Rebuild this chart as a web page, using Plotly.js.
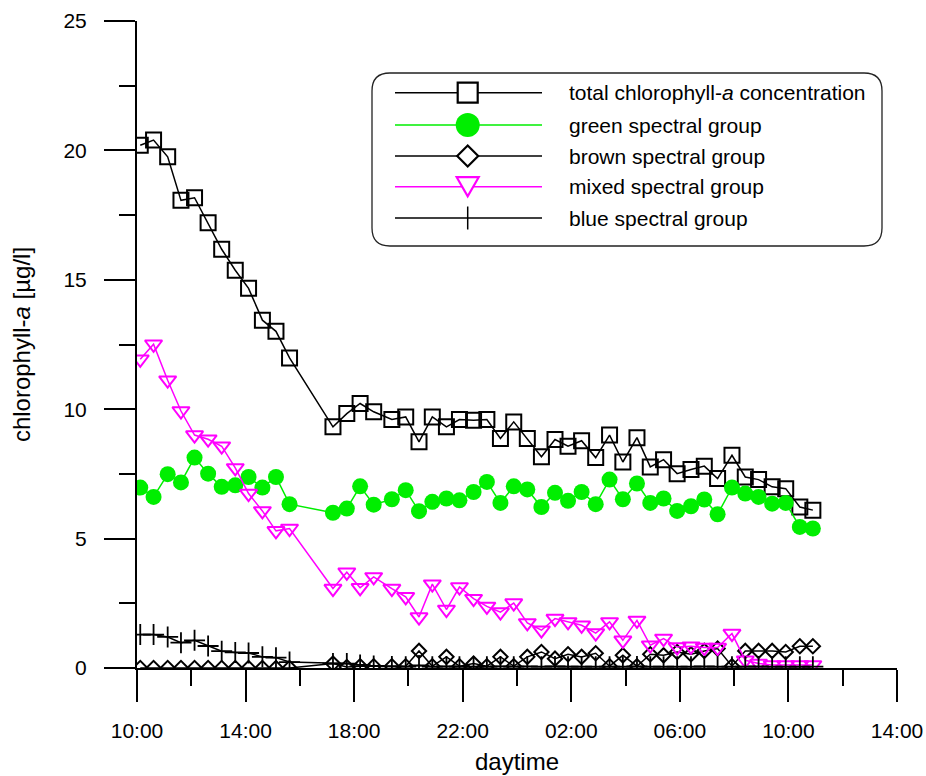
<!DOCTYPE html>
<html><head><meta charset="utf-8">
<script src="https://cdn.plot.ly/plotly-3.0.1.min.js"></script>
<style>html,body{margin:0;padding:0;background:#fff}#chart{width:926px;height:776px}</style>
</head><body><div id="chart"></div>
<script>
// Sampling times, hours since 00:00 of day 1 (values > 24 are the next day)
const timeHours = [10.12, 10.61, 11.13, 11.62, 12.12, 12.62, 13.12, 13.62, 14.11, 14.62, 15.12, 15.62,
  17.22, 17.73, 18.22, 18.72, 19.39, 19.9, 20.39, 20.88, 21.4, 21.88,
  22.4, 22.89, 23.39, 23.88, 24.38, 24.9, 25.4, 25.88, 26.38, 26.9,
  27.41, 27.9, 28.42, 28.91, 29.4, 29.9, 30.41, 30.9, 31.39, 31.92,
  32.41, 32.9, 33.4, 33.9, 34.42, 34.9];

const totalChl = [20.2, 20.4, 19.75, 18.07, 18.17, 17.2, 16.18, 15.37, 14.67, 13.44, 13.01, 11.98,
  9.32, 9.83, 10.22, 9.9, 9.6, 9.7, 8.74, 9.7, 9.32, 9.6,
  9.57, 9.6, 8.87, 9.51, 8.87, 8.16, 8.83, 8.57, 8.78, 8.13,
  9.0, 7.96, 8.9, 7.77, 8.05, 7.51, 7.67, 7.8, 7.32, 8.22,
  7.38, 7.28, 7.0, 6.93, 6.22, 6.1];

const greenGroup = [6.97, 6.61, 7.49, 7.17, 8.13, 7.51, 7.0, 7.06, 7.38, 6.97, 7.38, 6.33,
  6.0, 6.16, 7.02, 6.31, 6.52, 6.87, 6.06, 6.42, 6.55, 6.48,
  6.8, 7.19, 6.38, 7.02, 6.9, 6.22, 6.77, 6.46, 6.8, 6.33,
  7.28, 6.52, 7.13, 6.38, 6.55, 6.07, 6.25, 6.51, 5.94, 6.97,
  6.74, 6.61, 6.35, 6.38, 5.45, 5.39];

const brownGroup = [0, 0, 0, 0, 0, 0, 0, 0, 0, 0, 0, 0,
  0.17, 0.04, 0.07, 0.07, 0.07, 0.07, 0.66, 0.07, 0.43, 0.07,
  0.17, 0.07, 0.43, 0.07, 0.43, 0.62, 0.36, 0.53, 0.43, 0.57,
  0.07, 0.49, 0.07, 0.53, 0.49, 0.62, 0.53, 0.66, 0.75, 0.07,
  0.66, 0.66, 0.66, 0.62, 0.84, 0.84];

const mixedGroup = [11.93, 12.51, 11.12, 9.93, 9.0, 8.84, 8.57, 7.73, 6.74, 6.07, 5.3, 5.39,
  3.07, 3.7, 3.1, 3.52, 3.07, 2.75, 1.97, 3.24, 2.26, 3.13,
  2.68, 2.38, 2.16, 2.51, 1.74, 1.46, 1.91, 1.78, 1.65, 1.35,
  1.78, 1.07, 1.84, 0.88, 1.14, 0.81, 0.84, 0.79, 0.79, 1.33,
  0.3, 0.17, 0.12, 0.12, 0.12, 0.12];

const blueGroup = [1.29, 1.29, 1.2, 0.98, 1.07, 0.85, 0.65, 0.6, 0.58, 0.43, 0.4, 0.23,
  0.17, 0.17, 0.12, 0.08, 0.06, 0.05, 0.1, 0.05, 0.06, 0.05,
  0.05, 0.05, 0.06, 0.05, 0.06, 0.05, 0.06, 0.05, 0.05, 0.05,
  0.05, 0.05, 0.06, 0.05, 0.05, 0.05, 0.05, 0.06, 0.05, 0.05,
  0.05, 0.06, 0.05, 0.05, 0.05, 0.05];

const seriesNames = ['total chlorophyll-<i>a</i> concentration', 'green spectral group',
  'brown spectral group', 'mixed spectral group', 'blue spectral group'];

const tickHours = [10, 14, 18, 22, 26, 30, 34, 38];
const tickLabels = ['10:00', '14:00', '18:00', '22:00', '02:00', '06:00', '10:00', '14:00'];

const GREEN = '#00ee00', MAGENTA = '#ff00ff', BLACK = '#000000';
const FONT = 'Liberation Sans, Arial, sans-serif';

const traces = [
  {x: timeHours, y: totalChl, name: seriesNames[0], mode: 'lines+markers',
   line: {color: BLACK, width: 1.5},
   marker: {symbol: 'square-open', size: 15, color: BLACK, line: {width: 2, color: BLACK}}},
  {x: timeHours, y: greenGroup, name: seriesNames[1], mode: 'lines+markers',
   line: {color: GREEN, width: 1.5},
   marker: {symbol: 'circle', size: 16, color: GREEN, line: {width: 0}}},
  {x: timeHours, y: brownGroup, name: seriesNames[2], mode: 'lines+markers',
   line: {color: BLACK, width: 1.5},
   marker: {symbol: 'diamond-open', size: 11, color: BLACK, line: {width: 2, color: BLACK}}},
  {x: timeHours, y: mixedGroup, name: seriesNames[3], mode: 'lines+markers',
   line: {color: MAGENTA, width: 1.5},
   marker: {symbol: 'triangle-down-open', size: 15, color: MAGENTA, line: {width: 2, color: MAGENTA}}},
  {x: timeHours, y: blueGroup, name: seriesNames[4], mode: 'lines+markers',
   line: {color: BLACK, width: 1.5},
   marker: {symbol: 'cross-thin-open', size: 15, color: BLACK, line: {width: 1.8, color: BLACK}}}
];

// plot-area geometry (px) for the custom legend
const PL = 137, PT = 21, PW = 760, PH = 647;
const fx = p => (p - PL) / PW;
const fy = p => (PT + PH - p) / PH;

const legendRows = [92.7, 125, 156, 186.7, 218];
const legendColors = [BLACK, GREEN, BLACK, MAGENTA, BLACK];
const mx = 467.7;

const shapes = [];
// rounded legend frame
(function () {
  const x0 = 372, x1 = 882, y0 = 73, y1 = 246, r = 18;
  const p = (x, y) => fx(x).toFixed(5) + ',' + fy(y).toFixed(5);
  const d = 'M' + p(x0 + r, y0) + ' L' + p(x1 - r, y0) + ' Q' + p(x1, y0) + ' ' + p(x1, y0 + r) +
    ' L' + p(x1, y1 - r) + ' Q' + p(x1, y1) + ' ' + p(x1 - r, y1) +
    ' L' + p(x0 + r, y1) + ' Q' + p(x0, y1) + ' ' + p(x0, y1 - r) +
    ' L' + p(x0, y0 + r) + ' Q' + p(x0, y0) + ' ' + p(x0 + r, y0) + ' Z';
  shapes.push({type: 'path', xref: 'paper', yref: 'paper', path: d,
    line: {color: '#222', width: 1.3}, fillcolor: 'rgba(255,255,255,1)', layer: 'above'});
})();
legendRows.forEach((ry, i) => {
  shapes.push({type: 'line', xref: 'paper', yref: 'paper', x0: fx(395), x1: fx(542), y0: fy(ry), y1: fy(ry),
    line: {color: legendColors[i], width: 1.5}, layer: 'above'});
});
const P = (x, y) => fx(x).toFixed(5) + ',' + fy(y).toFixed(5);
// square
shapes.push({type: 'rect', xref: 'paper', yref: 'paper', x0: fx(mx - 10), x1: fx(mx + 10),
  y0: fy(legendRows[0] - 10), y1: fy(legendRows[0] + 10), line: {color: BLACK, width: 2.2}, fillcolor: 'white', layer: 'above'});
// circle
shapes.push({type: 'circle', xref: 'paper', yref: 'paper', x0: fx(mx - 12), x1: fx(mx + 12),
  y0: fy(legendRows[1] - 12), y1: fy(legendRows[1] + 12), line: {color: GREEN, width: 0}, fillcolor: GREEN, layer: 'above'});
// diamond
(function () {
  const r = legendRows[2];
  shapes.push({type: 'path', xref: 'paper', yref: 'paper',
    path: 'M' + P(mx - 10.5, r) + ' L' + P(mx, r - 10.5) + ' L' + P(mx + 10.5, r) + ' L' + P(mx, r + 10.5) + ' Z',
    line: {color: BLACK, width: 2.2}, fillcolor: 'white', layer: 'above'});
})();
// triangle down
(function () {
  const r = legendRows[3];
  shapes.push({type: 'path', xref: 'paper', yref: 'paper',
    path: 'M' + P(mx - 11, r - 9.5) + ' L' + P(mx + 11, r - 9.5) + ' L' + P(mx, r + 9.5) + ' Z',
    line: {color: MAGENTA, width: 2.2}, fillcolor: 'white', layer: 'above'});
})();
// cross
shapes.push({type: 'line', xref: 'paper', yref: 'paper', x0: fx(mx), x1: fx(mx),
  y0: fy(legendRows[4] - 11.5), y1: fy(legendRows[4] + 11.5), line: {color: BLACK, width: 1.5}, layer: 'above'});

const annotations = legendRows.map((ry, i) => ({
  xref: 'paper', yref: 'paper', x: fx(567), y: fy(ry), xanchor: 'left', yanchor: 'middle',
  text: seriesNames[i], showarrow: false, font: {family: FONT, size: 21, color: BLACK}
}));

const layout = {
  width: 926, height: 776,
  margin: {l: PL, r: 926 - PL - PW, t: PT, b: 776 - PT - PH},
  paper_bgcolor: 'white', plot_bgcolor: 'white',
  showlegend: false,
  font: {family: FONT, size: 21, color: BLACK},
  xaxis: {
    range: [10, 38], showgrid: false, zeroline: false,
    showline: true, linecolor: BLACK, linewidth: 2,
    tickmode: 'array', tickvals: tickHours, ticktext: tickLabels,
    ticks: 'outside', ticklen: 32, tickwidth: 2, tickcolor: BLACK,
    ticklabelstandoff: 11,
    minor: {tick0: 10, dtick: 2, ticks: 'outside', ticklen: 16, tickwidth: 2, tickcolor: BLACK, showgrid: false},
    tickfont: {family: FONT, size: 21, color: BLACK},
    title: {text: 'daytime', font: {family: FONT, size: 24, color: BLACK}, standoff: 12}
  },
  yaxis: {
    range: [0, 25], showgrid: false, zeroline: false,
    showline: true, linecolor: BLACK, linewidth: 2,
    tick0: 0, dtick: 5,
    ticks: 'outside', ticklen: 31, tickwidth: 2, tickcolor: BLACK,
    ticklabelstandoff: 13,
    minor: {tick0: 0, dtick: 2.5, ticks: 'outside', ticklen: 16, tickwidth: 2, tickcolor: BLACK, showgrid: false},
    tickfont: {family: FONT, size: 21, color: BLACK},
    title: {text: 'chlorophyll-<i>a</i> [µg/l]', font: {family: FONT, size: 24, color: BLACK}, standoff: 26}
  },
  shapes: shapes,
  annotations: annotations
};

Plotly.newPlot('chart', traces, layout, {displayModeBar: false, staticPlot: true});
</script>
</body></html>
